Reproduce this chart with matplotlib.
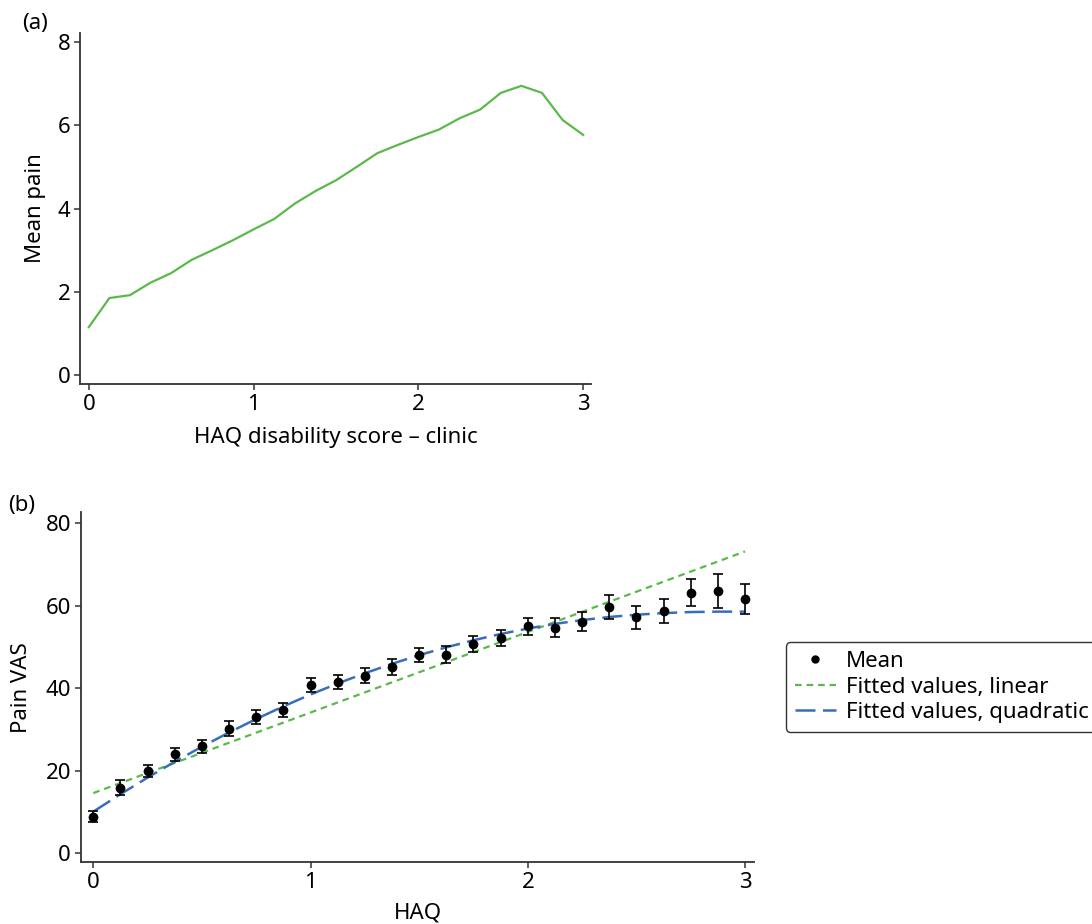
import numpy as np
import matplotlib
matplotlib.use('Agg')
import matplotlib.pyplot as plt
from matplotlib.lines import Line2D

plt.rcParams['font.family'] = ['Noto Sans', 'DejaVu Sans']

# panel (a): mean pain by clinic HAQ disability score
haq_a = [0, 0.125, 0.25, 0.375, 0.5, 0.625, 0.75, 0.875, 1.0, 1.125, 1.25, 1.375,
         1.5, 1.625, 1.75, 1.875, 2.0, 2.125, 2.25, 2.375, 2.5, 2.625, 2.75, 2.875, 3.0]
mean_pain = [1.15, 1.85, 1.92, 2.22, 2.45, 2.77, 3.0, 3.24, 3.5, 3.75, 4.12, 4.42,
             4.68, 5.0, 5.33, 5.53, 5.72, 5.9, 6.17, 6.38, 6.78, 6.95, 6.78, 6.13, 5.77]

# panel (b): pain VAS mean with error bars, and fitted values
haq_b = haq_a
vas_mean = [8.9, 15.9, 20.0, 24.0, 25.9, 30.2, 33.0, 34.7, 40.9, 41.5, 43.1, 45.1,
            48.1, 48.2, 50.7, 52.2, 55.0, 54.7, 56.1, 59.7, 57.2, 58.8, 63.2, 63.6, 61.6]
vas_err = [1.3, 1.8, 1.5, 1.65, 1.5, 1.8, 1.65, 1.7, 1.7, 1.75, 1.75, 1.9,
           1.8, 2.0, 2.0, 2.0, 2.05, 2.35, 2.3, 2.85, 2.8, 2.85, 3.3, 4.2, 3.65]
fit_linear_x = [0, 3]
fit_linear = [14.6, 73.2]
fit_quad = [10.1, 14.33, 18.36, 22.2, 25.85, 29.3, 32.56, 35.63, 38.5, 41.18, 43.66, 45.95,
            48.05, 49.95, 51.66, 53.18, 54.5, 55.63, 56.56, 57.3, 57.85, 58.25, 58.5, 58.6, 58.6]

green = '#5BB94B'
blue = '#3A6CBE'
fs = 16

fig = plt.figure(figsize=(10.92, 9.24), dpi=100)


def style(ax):
    for s in ['top', 'right']:
        ax.spines[s].set_visible(False)
    for s in ['left', 'bottom']:
        ax.spines[s].set_color('#333333')
        ax.spines[s].set_linewidth(1.3)
    ax.tick_params(labelsize=fs, length=4, width=1.1, color='#333333', pad=3)


ax1 = fig.add_axes([0.0733, 0.5844, 0.4680, 0.3799])
ax1.plot(haq_a, mean_pain, color=green, lw=1.6)
ax1.set_xlim(-0.053, 3.048)
ax1.set_ylim(-0.216, 8.22)
ax1.set_xticks([0, 1, 2, 3])
ax1.set_yticks([0, 2, 4, 6, 8])
ax1.set_xlabel('HAQ disability score – clinic', fontsize=fs, labelpad=8.5)
ax1.set_ylabel('Mean pain', fontsize=fs, labelpad=8)
style(ax1)

ax2 = fig.add_axes([0.0739, 0.0668, 0.6169, 0.3788])
ax2.plot(fit_linear_x, fit_linear, color=green, lw=1.6, dashes=(3, 2.2))
ax2.plot(haq_b, fit_quad, color=blue, lw=1.8, dashes=(8, 3))
ax2.errorbar(haq_b, vas_mean, yerr=vas_err, fmt='o', color='black', ms=6,
             ecolor='black', elinewidth=1.2, capsize=3.8, capthick=1.2, zorder=5)
ax2.set_xlim(-0.058, 3.043)
ax2.set_ylim(-2.18, 82.7)
ax2.set_xticks([0, 1, 2, 3])
ax2.set_yticks([0, 20, 40, 60, 80])
ax2.set_xlabel('HAQ', fontsize=fs, labelpad=7)
ax2.set_ylabel('Pain VAS', fontsize=fs, labelpad=10)
style(ax2)

handles = [Line2D([], [], ls='none', marker='o', color='black', ms=5),
           Line2D([], [], color=green, lw=1.6, dashes=(3, 2.2)),
           Line2D([], [], color=blue, lw=1.8, dashes=(8, 3))]
labels = ['Mean', 'Fitted values, linear', 'Fitted values, quadratic']
leg = fig.legend(handles, labels, loc='upper left', bbox_to_anchor=(0.7195, 0.305),
                 fontsize=fs, frameon=True, fancybox=True, edgecolor='black',
                 handlelength=1.85, handletextpad=0.45, borderpad=0.4,
                 labelspacing=0.2, borderaxespad=0)
leg.get_frame().set_linewidth(1.0)

fig.text(0.020, 0.975, '(a)', fontsize=fs, va='center', ha='left')
fig.text(0.007, 0.453, '(b)', fontsize=fs, va='center', ha='left')

fig.savefig('out.png', dpi=100)
